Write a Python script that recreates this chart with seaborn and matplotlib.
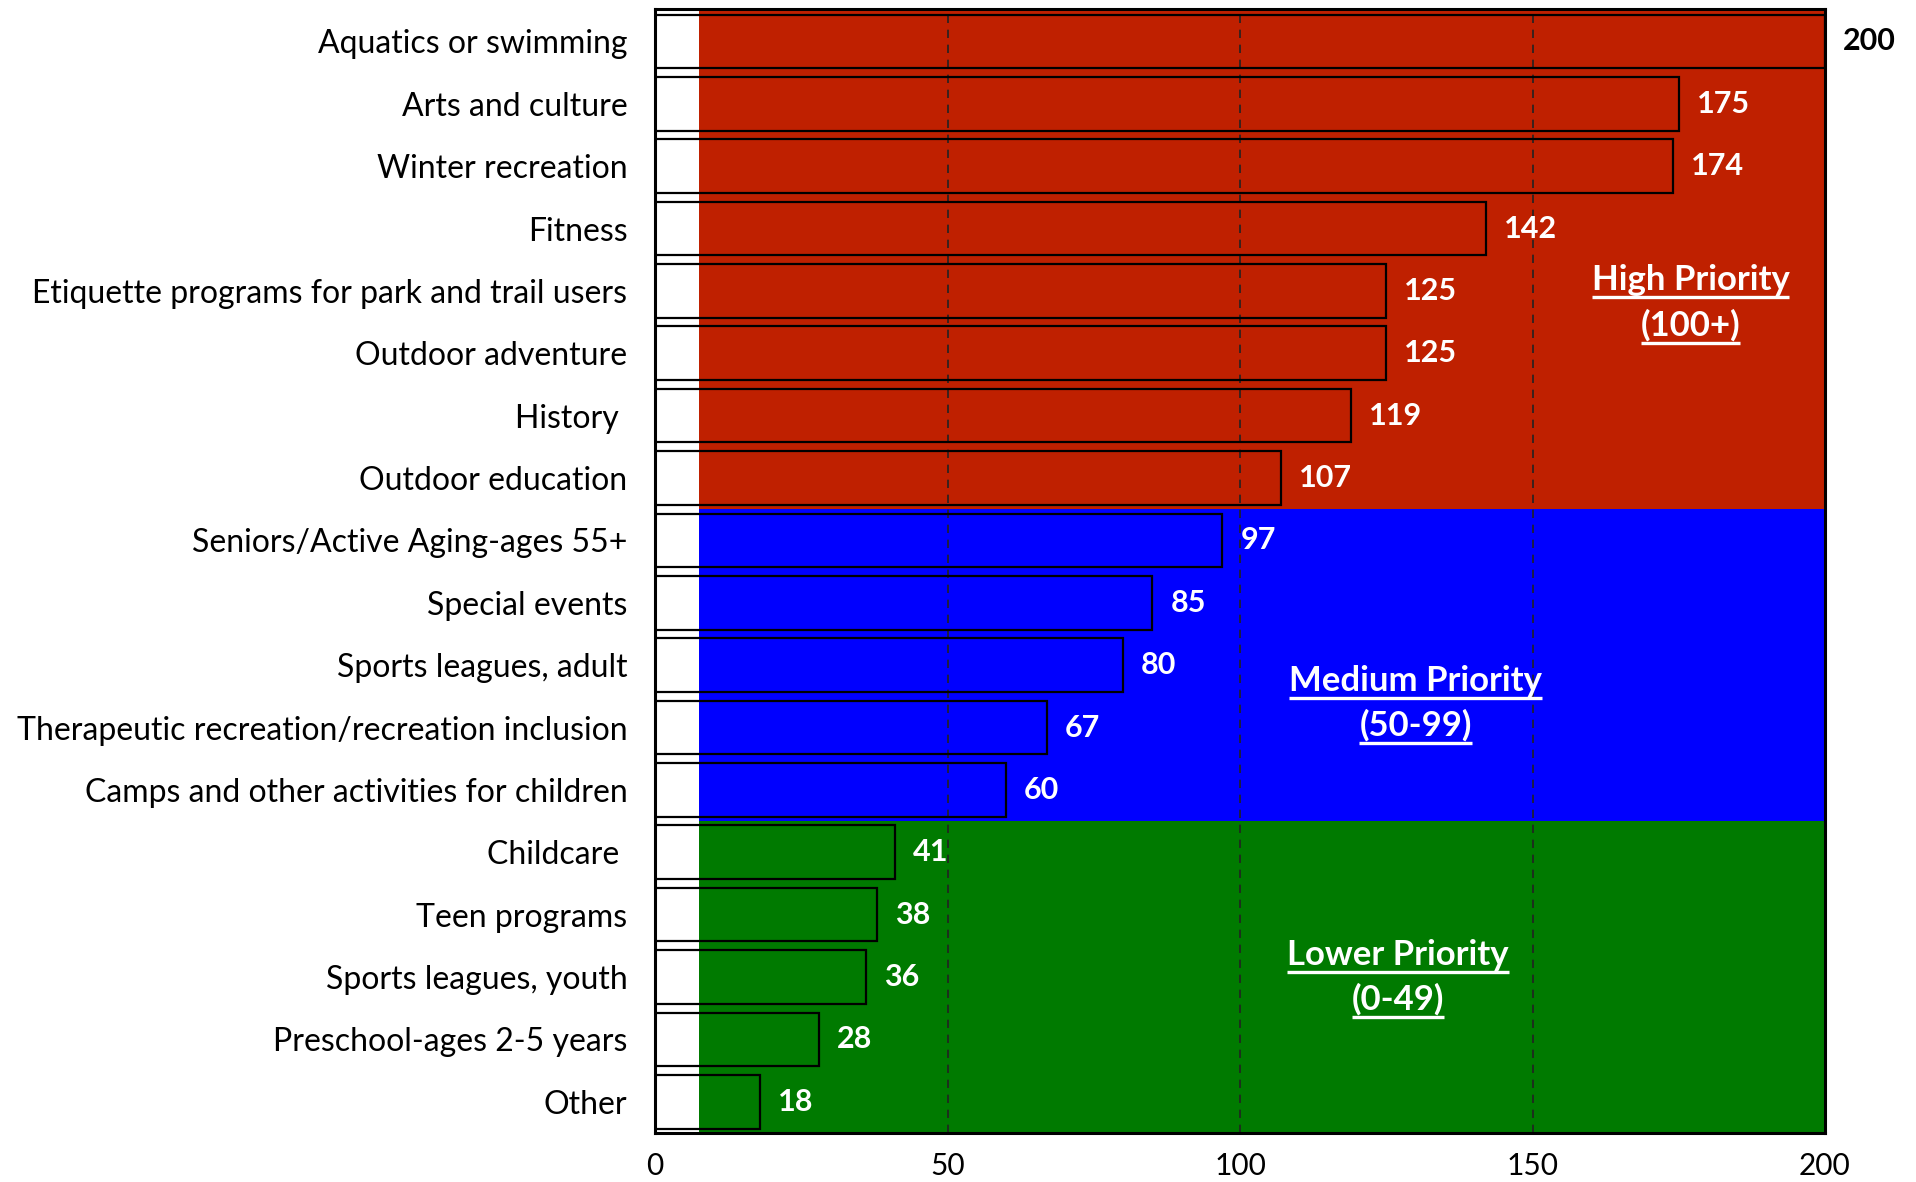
import numpy as np
import pandas as pd
import matplotlib
matplotlib.use("Agg")
import matplotlib.pyplot as plt
import seaborn as sns


# Chart data
CATEGORIES = [
    "Aquatics or swimming",
    "Arts and culture",
    "Winter recreation",
    "Fitness",
    "Etiquette programs for park and trail users",
    "Outdoor adventure",
    "History ",
    "Outdoor education",
    "Seniors/Active Aging-ages 55+",
    "Special events",
    "Sports leagues, adult",
    "Therapeutic recreation/recreation inclusion",
    "Camps and other activities for children",
    "Childcare ",
    "Teen programs",
    "Sports leagues, youth",
    "Preschool-ages 2-5 years",
    "Other",
]
VALUES = [200, 175, 174, 142, 125, 125, 119, 107, 97, 85, 80, 67, 60, 41, 38, 36, 28, 18]

# Priority bands: label lines, colour, number of rows in the band
BAND_LINES = [["High Priority", "(100+)"], ["Medium Priority", "(50-99)"], ["Lower Priority", "(0-49)"]]
BAND_COLORS = ["#BF2000", "#0000FF", "#007A00"]
BAND_ROWS = [8, 5, 5]
BAND_LABEL_X = [177, 130, 127]
BAND_LABEL_Y = [3.83, 10.25, 14.64]

X_TICKS = [0, 50, 100, 150, 200]
X_MAX = 200
BAND_START_X = 7.5

FONT = ["Lato", "DejaVu Sans"]


def main():
    sns.set_theme(style="white")
    plt.rcParams["font.family"] = FONT

    df = pd.DataFrame({"category": CATEGORIES, "value": VALUES})

    fig = plt.figure(figsize=(19.16, 11.82), dpi=100)
    ax = fig.add_axes([0.3419, 0.0415, 0.6106, 0.9509])

    sns.barplot(data=df, x="value", y="category", orient="h", color="white",
                edgecolor="black", linewidth=1.6, width=0.86, ax=ax, zorder=3)
    bars = list(ax.containers[0])
    for bar in bars:
        bar.set_facecolor("none")

    # coloured priority bands behind the bars
    start = -0.5
    for color, n_rows in zip(BAND_COLORS, BAND_ROWS):
        ax.fill_betweenx([start, start + n_rows], BAND_START_X, X_MAX,
                         color=color, lw=0, zorder=0)
        start += n_rows

    ax.set_xlim(0, X_MAX)
    ax.set_ylim(len(CATEGORIES) - 0.5, -0.52)
    ax.set_xticks(X_TICKS)
    ax.set_xlabel("")
    ax.set_ylabel("")

    # dashed vertical gridlines
    for x in X_TICKS[1:-1]:
        ax.axvline(x, color="#222222", lw=1.2, ls=(0, (5, 4)), zorder=1)

    for side in ["left", "right", "top", "bottom"]:
        ax.spines[side].set_visible(True)
        ax.spines[side].set_color("black")
        ax.spines[side].set_linewidth(2.2)
        ax.spines[side].set_zorder(4)

    ax.tick_params(axis="y", length=0, pad=20, labelsize=23, labelcolor="black")
    ax.tick_params(axis="x", length=0, pad=14, labelsize=21.5, labelcolor="black")

    # value labels
    for bar, value in zip(bars, VALUES):
        y = bar.get_y() + bar.get_height() / 2
        color = "black" if value >= X_MAX else "white"
        ax.annotate(f"{value}", xy=(value, y), xytext=(13, 0),
                    textcoords="offset points", ha="left", va="center",
                    fontsize=22, fontweight="bold", color=color,
                    annotation_clip=False, zorder=5)

    # priority band labels (underlined, white, bold)
    line_step = 0.72
    band_texts = []
    for lines, lx, ly in zip(BAND_LINES, BAND_LABEL_X, BAND_LABEL_Y):
        for i, line in enumerate(lines):
            t = ax.text(lx, ly + i * line_step, line, ha="center", va="center",
                        fontsize=25, fontweight="bold", color="white", zorder=5)
            band_texts.append(t)

    fig.canvas.draw()
    inv = ax.transData.inverted()
    for t in band_texts:
        bb = t.get_window_extent()
        (x0, y0), (x1, _) = inv.transform([(bb.x0, bb.y0 - 1), (bb.x1, bb.y0 - 1)])
        ax.plot([x0, x1], [y0, y0], color="white", lw=2.4, solid_capstyle="butt", zorder=5)

    fig.savefig("out.png", dpi=100)


if __name__ == "__main__":
    main()
